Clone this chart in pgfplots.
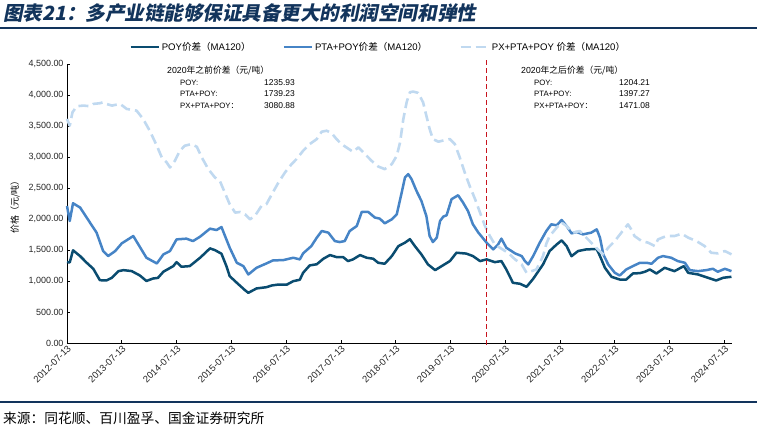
\documentclass[border=0pt]{standalone}
\usepackage{fontspec}
\setmainfont{Liberation Sans}
\newfontfamily\cjk{Noto Sans CJK SC}
\newfontfamily\cjkti[FakeSlant=0.2]{Noto Sans CJK SC}
\usepackage{pgfplots}
\pgfplotsset{compat=1.18}
\definecolor{poy}{RGB}{10,76,112}
\definecolor{pta}{RGB}{70,132,198}
\definecolor{px}{RGB}{192,217,240}
\definecolor{cut}{RGB}{200,20,30}
\definecolor{navy}{RGB}{18,52,92}

\begin{document}
\begin{tikzpicture}[x=1bp,y=1bp]
\useasboundingbox (0,0) rectangle (757,436);

% title and rules
\node[anchor=base west, inner sep=0, text=navy] at (3,415)
  {\fontsize{19.6}{19.6}\selectfont\cjkti\bfseries 图表21：多产业链能够保证具备更大的利润空间和弹性};
\draw[navy, line width=1.5bp] (0,408) -- (757,408);
\draw[navy, line width=1.3bp] (0,34) -- (757,34);
\node[anchor=west, inner sep=0] at (3,18)
  {\fontsize{13.8}{13.8}\selectfont\cjk 来源：同花顺、百川盈孚、国金证券研究所};

% y label
\node[rotate=90, inner sep=0] at (15,231)
  {\fontsize{9}{9}\selectfont\cjk 价格（元/吨）};

\begin{axis}[
    at={(67bp,93bp)}, anchor=south west,
    scale only axis, width=665bp, height=279bp,
    xmin=0, xmax=12.14, ymin=0, ymax=4500,
    axis x line*=bottom, axis y line*=left,
    axis line style={black, line width=0.8bp},
    tick align=inside, major tick length=3bp,
    tick style={black, line width=0.6bp},
    xtick={0,...,12},
    xticklabels={2012-07-13,2013-07-13,2014-07-13,2015-07-13,2016-07-13,2017-07-13,2018-07-13,2019-07-13,2020-07-13,2021-07-13,2022-07-13,2023-07-13,2024-07-13},
    xticklabel style={rotate=45, anchor=north east, inner sep=1bp, font=\fontsize{9.5}{9.5}\selectfont, text=black!85},
    ytick={0,500,...,4500},
    yticklabel style={font=\fontsize{9}{9}\selectfont, text=black!85,
      /pgf/number format/fixed, /pgf/number format/fixed zerofill,
      /pgf/number format/precision=2, /pgf/number format/1000 sep={,}},
    /pgf/number format/assume math mode=true,
    clip=false,
    legend columns=3,
    legend style={at={(0.468,1.061)}, anchor=center, draw=none, fill=none,
      font=\fontsize{9.6}{9.6}\selectfont, inner sep=0pt,
      /tikz/every even column/.append style={column sep=30bp}},
    legend image code/.code={\draw[#1] (0bp,0bp) -- (28bp,0bp);},
]

\addplot[poy, line width=2.5bp, line join=round] coordinates {
(0,1304) (0.05,1300) (0.11,1495) (0.24,1401) (0.36,1294) (0.48,1197) (0.54,1105)
(0.60,1013) (0.72,1008) (0.82,1052) (0.94,1159) (1.03,1175) (1.18,1160) (1.33,1089)
(1.45,1000) (1.57,1040) (1.66,1050) (1.76,1150) (1.94,1240) (2.00,1304) (2.09,1230)
(2.24,1240) (2.43,1375) (2.61,1526) (2.70,1498) (2.82,1440) (2.91,1240) (2.97,1078)
(3.10,971) (3.25,851) (3.31,809) (3.46,880) (3.64,900) (3.74,928) (3.86,943)
(4.01,940) (4.13,997) (4.25,1020) (4.31,1132) (4.43,1251) (4.56,1270) (4.68,1359)
(4.80,1418) (4.92,1386) (5.04,1386) (5.13,1321) (5.22,1348) (5.35,1418) (5.47,1375)
(5.59,1359) (5.68,1294) (5.80,1278) (5.93,1402) (6.05,1563) (6.17,1618) (6.26,1675)
(6.35,1563) (6.47,1429) (6.59,1267) (6.72,1175) (6.84,1240) (6.99,1321) (7.11,1456)
(7.29,1442) (7.41,1402) (7.54,1321) (7.66,1348) (7.81,1304) (7.93,1321) (8.02,1186)
(8.14,971) (8.27,955) (8.39,906) (8.51,1035) (8.69,1267) (8.81,1483) (8.94,1590)
(9.03,1655) (9.12,1563) (9.21,1400) (9.33,1483) (9.48,1510) (9.67,1515) (9.73,1402)
(9.82,1213) (9.94,1068) (10.09,1024) (10.21,1024) (10.33,1121) (10.46,1127) (10.55,1149)
(10.64,1186) (10.76,1121) (10.91,1213) (11.09,1159) (11.26,1240) (11.34,1132) (11.52,1105)
(11.70,1052) (11.85,1008) (11.98,1052) (12.13,1068)
};
\addlegendentry{POY{\cjk 价差（}MA120{\cjk ）}}

\addplot[pta, line width=2.5bp, line join=round] coordinates {
(0,2210) (0.05,1968) (0.11,2254) (0.24,2184) (0.42,1941) (0.54,1780) (0.66,1483)
(0.75,1402) (0.88,1483) (1.00,1607) (1.21,1725) (1.45,1375) (1.64,1283) (1.76,1429)
(1.88,1483) (2.00,1671) (2.18,1683) (2.30,1644) (2.43,1715) (2.61,1844) (2.73,1822)
(2.82,1870) (2.97,1537) (3.10,1294) (3.22,1240) (3.31,1105) (3.46,1213) (3.64,1283)
(3.76,1332) (3.95,1337) (4.13,1375) (4.25,1348) (4.31,1445) (4.46,1563) (4.56,1699)
(4.65,1806) (4.77,1780) (4.89,1644) (4.98,1628) (5.07,1644) (5.16,1806) (5.29,1887)
(5.38,2113) (5.50,2113) (5.62,2023) (5.71,2006) (5.80,1930) (5.93,1995) (6.02,2076)
(6.11,2427) (6.17,2670) (6.23,2723) (6.29,2642) (6.38,2453) (6.47,2291) (6.56,2049)
(6.62,1725) (6.68,1628) (6.75,1699) (6.81,1968) (6.87,2039) (6.93,2060) (7.02,2319)
(7.14,2383) (7.23,2265) (7.32,2129) (7.41,1914) (7.51,1780) (7.66,1618) (7.78,1510)
(7.87,1590) (7.93,1683) (8.02,1537) (8.18,1445) (8.30,1402) (8.36,1321) (8.42,1267)
(8.51,1402) (8.63,1618) (8.75,1806) (8.84,1914) (8.94,1898) (9.03,1984) (9.12,1887)
(9.21,1768) (9.30,1790) (9.42,1752) (9.57,1780) (9.67,1833) (9.73,1699) (9.79,1429)
(9.88,1267) (10.00,1132) (10.09,1089) (10.21,1186) (10.33,1240) (10.46,1294) (10.58,1294)
(10.67,1278) (10.79,1375) (10.88,1402) (11.03,1375) (11.15,1321) (11.28,1294) (11.37,1175)
(11.52,1159) (11.67,1175) (11.79,1197) (11.88,1149) (12.01,1197) (12.13,1159)
};
\addlegendentry{PTA+POY{\cjk 价差（}MA120{\cjk ）}}

\addplot[px, line width=2.6bp, dash pattern=on 10bp off 5bp, line join=round] coordinates {
(0,3613) (0.05,3505) (0.10,3721) (0.18,3819) (0.30,3829) (0.42,3819) (0.48,3856)
(0.60,3867) (0.66,3883) (0.72,3856) (0.82,3829) (0.97,3856) (1.09,3775) (1.27,3748)
(1.39,3613) (1.51,3424) (1.64,3181) (1.73,2993) (1.82,2912) (1.88,2831) (1.97,2939)
(2.06,3100) (2.15,3181) (2.27,3208) (2.37,3165) (2.46,2993) (2.58,2804) (2.70,2670)
(2.79,2615) (2.88,2427) (2.97,2238) (3.07,2103) (3.16,2113) (3.25,2076) (3.34,1995)
(3.43,2049) (3.55,2210) (3.64,2238) (3.74,2400) (3.86,2589) (3.98,2751) (4.10,2885)
(4.19,2966) (4.31,3100) (4.43,3208) (4.56,3289) (4.65,3408) (4.74,3424) (4.83,3386)
(4.92,3289) (5.01,3208) (5.10,3155) (5.22,3084) (5.32,3155) (5.44,3047) (5.56,2939)
(5.68,2847) (5.80,2804) (5.93,2885) (6.02,3020) (6.08,3235) (6.14,3613) (6.20,3883)
(6.26,4045) (6.32,4055) (6.41,4034) (6.50,3883) (6.56,3667) (6.62,3451) (6.68,3289)
(6.78,3246) (6.90,3273) (6.99,3289) (7.08,3208) (7.17,2993) (7.26,2751) (7.35,2534)
(7.45,2319) (7.54,2103) (7.63,1887) (7.72,1725) (7.81,1590) (7.93,1521) (8.05,1456)
(8.18,1348) (8.30,1267) (8.39,1132) (8.57,1186) (8.69,1402) (8.75,1600) (8.81,1725)
(8.94,1861) (9.03,1941) (9.12,1887) (9.24,1780) (9.36,1806) (9.48,1699) (9.57,1618)
(9.69,1510) (9.79,1429) (9.88,1537) (10.00,1644) (10.12,1780) (10.24,1914) (10.30,1833)
(10.36,1725) (10.49,1644) (10.61,1618) (10.73,1563) (10.79,1671) (10.94,1725) (11.09,1725)
(11.22,1763) (11.34,1699) (11.49,1644) (11.64,1563) (11.76,1456) (11.88,1445) (12.01,1483)
(12.13,1429)
};
\addlegendentry{PX+PTA+POY {\cjk 价差（}MA120{\cjk ）}}

% 2020 split
\addplot[cut, line width=1.6bp, dash pattern=on 5bp off 3bp, forget plot] coordinates {(7.66,-30) (7.66,4580)};

\end{axis}

% annotations
\begin{scope}[every node/.style={inner sep=0}]
\node[anchor=west] at (167,365) {\fontsize{8.8}{8.8}\selectfont 2020{\cjk 年之前价差（元/吨）}};
\node[anchor=west] at (180,353) {\fontsize{7.8}{7.8}\selectfont POY:};
\node[anchor=west] at (180,342) {\fontsize{7.8}{7.8}\selectfont PTA+POY:};
\node[anchor=west] at (180,330) {\fontsize{7.8}{7.8}\selectfont PX+PTA+POY{\cjk ：}};
\node[anchor=east] at (295,353) {\fontsize{8.5}{8.5}\selectfont 1235.93};
\node[anchor=east] at (295,342) {\fontsize{8.5}{8.5}\selectfont 1739.23};
\node[anchor=east] at (295,330) {\fontsize{8.5}{8.5}\selectfont 3080.88};

\node[anchor=west] at (521,365) {\fontsize{8.8}{8.8}\selectfont 2020{\cjk 年之后价差（元/吨）}};
\node[anchor=west] at (534,353) {\fontsize{7.8}{7.8}\selectfont POY:};
\node[anchor=west] at (534,342) {\fontsize{7.8}{7.8}\selectfont PTA+POY:};
\node[anchor=west] at (534,330) {\fontsize{7.8}{7.8}\selectfont PX+PTA+POY{\cjk ：}};
\node[anchor=east] at (650,353) {\fontsize{8.5}{8.5}\selectfont 1204.21};
\node[anchor=east] at (650,342) {\fontsize{8.5}{8.5}\selectfont 1397.27};
\node[anchor=east] at (650,330) {\fontsize{8.5}{8.5}\selectfont 1471.08};
\end{scope}
\end{tikzpicture}
\end{document}
